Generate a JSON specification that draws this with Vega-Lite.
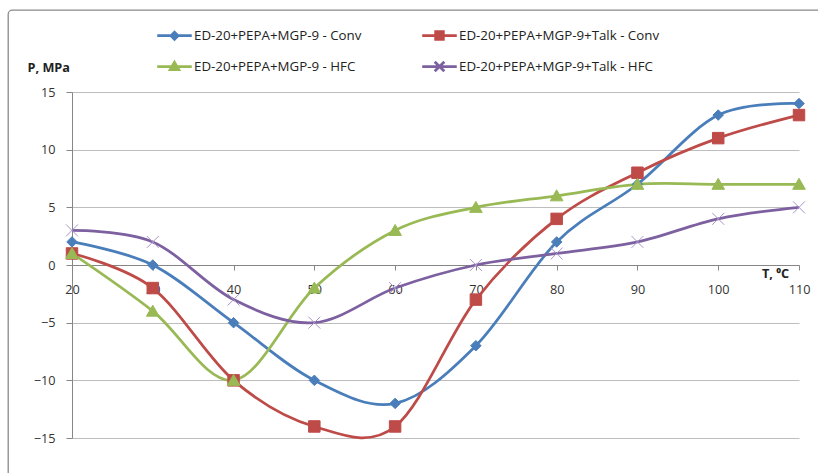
{
  "$schema": "https://vega.github.io/schema/vega-lite/v6.json",
  "autosize": "none",
  "width": 820,
  "height": 473,
  "padding": {"left": 8, "top": 10, "right": -10, "bottom": -10},
  "background": "white",
  "config": {
    "view": {"stroke": "#8a8a8a", "strokeWidth": 1.3, "cornerRadius": 4},
    "font": "Open Sans"
  },
  "data": {
    "values": [
      {"T": 20, "P": 2, "s": "ED-20+PEPA+MGP-9 - Conv"},
      {"T": 30, "P": 0, "s": "ED-20+PEPA+MGP-9 - Conv"},
      {"T": 40, "P": -5, "s": "ED-20+PEPA+MGP-9 - Conv"},
      {"T": 50, "P": -10, "s": "ED-20+PEPA+MGP-9 - Conv"},
      {"T": 60, "P": -12, "s": "ED-20+PEPA+MGP-9 - Conv"},
      {"T": 70, "P": -7, "s": "ED-20+PEPA+MGP-9 - Conv"},
      {"T": 80, "P": 2, "s": "ED-20+PEPA+MGP-9 - Conv"},
      {"T": 90, "P": 7, "s": "ED-20+PEPA+MGP-9 - Conv"},
      {"T": 100, "P": 13, "s": "ED-20+PEPA+MGP-9 - Conv"},
      {"T": 110, "P": 14, "s": "ED-20+PEPA+MGP-9 - Conv"},
      {"T": 20, "P": 1, "s": "ED-20+PEPA+MGP-9+Talk - Conv"},
      {"T": 30, "P": -2, "s": "ED-20+PEPA+MGP-9+Talk - Conv"},
      {"T": 40, "P": -10, "s": "ED-20+PEPA+MGP-9+Talk - Conv"},
      {"T": 50, "P": -14, "s": "ED-20+PEPA+MGP-9+Talk - Conv"},
      {"T": 60, "P": -14, "s": "ED-20+PEPA+MGP-9+Talk - Conv"},
      {"T": 70, "P": -3, "s": "ED-20+PEPA+MGP-9+Talk - Conv"},
      {"T": 80, "P": 4, "s": "ED-20+PEPA+MGP-9+Talk - Conv"},
      {"T": 90, "P": 8, "s": "ED-20+PEPA+MGP-9+Talk - Conv"},
      {"T": 100, "P": 11, "s": "ED-20+PEPA+MGP-9+Talk - Conv"},
      {"T": 110, "P": 13, "s": "ED-20+PEPA+MGP-9+Talk - Conv"},
      {"T": 20, "P": 1, "s": "ED-20+PEPA+MGP-9 - HFC"},
      {"T": 30, "P": -4, "s": "ED-20+PEPA+MGP-9 - HFC"},
      {"T": 40, "P": -10, "s": "ED-20+PEPA+MGP-9 - HFC"},
      {"T": 50, "P": -2, "s": "ED-20+PEPA+MGP-9 - HFC"},
      {"T": 60, "P": 3, "s": "ED-20+PEPA+MGP-9 - HFC"},
      {"T": 70, "P": 5, "s": "ED-20+PEPA+MGP-9 - HFC"},
      {"T": 80, "P": 6, "s": "ED-20+PEPA+MGP-9 - HFC"},
      {"T": 90, "P": 7, "s": "ED-20+PEPA+MGP-9 - HFC"},
      {"T": 100, "P": 7, "s": "ED-20+PEPA+MGP-9 - HFC"},
      {"T": 110, "P": 7, "s": "ED-20+PEPA+MGP-9 - HFC"},
      {"T": 20, "P": 3, "s": "ED-20+PEPA+MGP-9+Talk - HFC"},
      {"T": 30, "P": 2, "s": "ED-20+PEPA+MGP-9+Talk - HFC"},
      {"T": 40, "P": -3, "s": "ED-20+PEPA+MGP-9+Talk - HFC"},
      {"T": 50, "P": -5, "s": "ED-20+PEPA+MGP-9+Talk - HFC"},
      {"T": 60, "P": -2, "s": "ED-20+PEPA+MGP-9+Talk - HFC"},
      {"T": 70, "P": 0, "s": "ED-20+PEPA+MGP-9+Talk - HFC"},
      {"T": 80, "P": 1, "s": "ED-20+PEPA+MGP-9+Talk - HFC"},
      {"T": 90, "P": 2, "s": "ED-20+PEPA+MGP-9+Talk - HFC"},
      {"T": 100, "P": 4, "s": "ED-20+PEPA+MGP-9+Talk - HFC"},
      {"T": 110, "P": 5, "s": "ED-20+PEPA+MGP-9+Talk - HFC"}
    ]
  },
  "encoding": {
    "x": {
      "field": "T", "type": "quantitative",
      "scale": {"domain": [20, 110], "range": [64, 791], "nice": false, "zero": false},
      "axis": {
        "orient": "bottom", "offset": -218,
        "values": [20, 30, 40, 50, 60, 70, 80, 90, 100, 110],
        "grid": false, "labelFlush": false,
        "domainColor": "#868686", "tickColor": "#868686", "tickSize": 5,
        "labelPadding": 13, "labelFont": "Open Sans", "labelFontSize": 12.7, "labelColor": "#333333",
        "title": "T, ⁰C", "titleX": 767, "titleY": 8, "titleAlign": "center", "titleBaseline": "middle",
        "titleAngle": 0, "titleFont": "Open Sans", "titleFontSize": 12.7, "titleFontWeight": "bold", "titleColor": "#222222"
      }
    },
    "y": {
      "field": "P", "type": "quantitative",
      "scale": {"domain": [-15, 15], "range": [428, 82], "nice": false, "zero": false},
      "axis": {
        "orient": "left", "offset": -64,
        "values": [-15, -10, -5, 0, 5, 10, 15],
        "grid": true, "gridColor": "#bdbdbd", "gridWidth": 1,
        "domainColor": "#868686", "tickColor": "#868686", "tickSize": 6,
        "labelPadding": 11, "labelFont": "Open Sans", "labelFontSize": 12.7, "labelColor": "#333333",
        "title": "P, MPa", "titleX": -45, "titleY": 57, "titleAlign": "left", "titleBaseline": "middle",
        "titleAngle": 0, "titleFont": "Open Sans", "titleFontSize": 12.7, "titleFontWeight": "bold", "titleColor": "#222222"
      }
    }
  },
  "resolve": {"scale": {"color": "independent", "shape": "independent", "stroke": "independent"}},
  "layer": [
    {
      "mark": {"type": "line", "interpolate": "cardinal", "strokeWidth": 2.75},
      "encoding": {
        "color": {
          "field": "s", "type": "nominal",
          "scale": {
            "domain": ["ED-20+PEPA+MGP-9 - Conv", "ED-20+PEPA+MGP-9+Talk - Conv", "ED-20+PEPA+MGP-9 - HFC", "ED-20+PEPA+MGP-9+Talk - HFC"],
            "range": ["#4a7ebb", "#be4b48", "#98b954", "#7d60a0"]
          },
          "legend": null
        }
      }
    },
    {
      "mark": {"type": "point", "filled": true, "opacity": 1, "size": 196, "strokeWidth": 1},
      "encoding": {
        "color": {
          "field": "s", "type": "nominal",
          "scale": {
            "domain": ["ED-20+PEPA+MGP-9 - Conv", "ED-20+PEPA+MGP-9+Talk - Conv", "ED-20+PEPA+MGP-9 - HFC", "ED-20+PEPA+MGP-9+Talk - HFC"],
            "range": ["#4a7ebb", "#be4b48", "#98b954", "#7d60a0"]
          },
          "legend": null
        },
        "stroke": {
          "field": "s", "type": "nominal",
          "scale": {
            "domain": ["ED-20+PEPA+MGP-9 - Conv", "ED-20+PEPA+MGP-9+Talk - Conv", "ED-20+PEPA+MGP-9 - HFC", "ED-20+PEPA+MGP-9+Talk - HFC"],
            "range": ["#4a7ebb", "#be4b48", "#98b954", "#a995c9"]
          },
          "legend": null
        },
        "shape": {
          "field": "s", "type": "nominal",
          "scale": {
            "domain": ["ED-20+PEPA+MGP-9 - Conv", "ED-20+PEPA+MGP-9+Talk - Conv", "ED-20+PEPA+MGP-9 - HFC", "ED-20+PEPA+MGP-9+Talk - HFC"],
            "range": [
              "M0,-0.75L0.75,0L0,0.75L-0.75,0Z",
              "M-0.82,-0.82L0.82,-0.82L0.82,0.82L-0.82,0.82Z",
              "M0,-0.85L0.9,0.72L-0.9,0.72Z",
              "M-0.85,-0.85L0.85,0.85M-0.85,0.85L0.85,-0.85"
            ]
          },
          "legend": null
        }
      }
    },
    {
      "mark": {"type": "point", "filled": true, "opacity": 0, "size": 1024, "strokeWidth": 2.75},
      "encoding": {
        "color": {
          "field": "s", "type": "nominal",
          "scale": {
            "domain": ["ED-20+PEPA+MGP-9 - Conv", "ED-20+PEPA+MGP-9+Talk - Conv", "ED-20+PEPA+MGP-9 - HFC", "ED-20+PEPA+MGP-9+Talk - HFC"],
            "range": ["#4a7ebb", "#be4b48", "#98b954", "#7d60a0"]
          },
          "legend": {
            "orient": "none", "legendX": 149, "legendY": 8, "columns": 2, "direction": "horizontal",
            "values": ["ED-20+PEPA+MGP-9 - Conv", "ED-20+PEPA+MGP-9+Talk - Conv", "ED-20+PEPA+MGP-9 - HFC", "ED-20+PEPA+MGP-9+Talk - HFC"],
            "columnPadding": 54, "rowPadding": 4,
            "symbolOpacity": 1, "symbolStrokeWidth": 2.75, "symbolSize": 1024,
            "labelFont": "Open Sans", "labelFontSize": 13.3, "labelColor": "#222222", "labelOffset": 2, "labelLimit": 400,
            "title": null
          }
        },
        "stroke": {
          "field": "s", "type": "nominal",
          "scale": {
            "domain": ["ED-20+PEPA+MGP-9 - Conv", "ED-20+PEPA+MGP-9+Talk - Conv", "ED-20+PEPA+MGP-9 - HFC", "ED-20+PEPA+MGP-9+Talk - HFC"],
            "range": ["#4a7ebb", "#be4b48", "#98b954", "#7d60a0"]
          },
          "legend": {
            "orient": "none", "legendX": 149, "legendY": 8, "columns": 2, "direction": "horizontal",
            "values": ["ED-20+PEPA+MGP-9 - Conv", "ED-20+PEPA+MGP-9+Talk - Conv", "ED-20+PEPA+MGP-9 - HFC", "ED-20+PEPA+MGP-9+Talk - HFC"],
            "columnPadding": 54, "rowPadding": 4,
            "symbolOpacity": 1, "symbolStrokeWidth": 2.75, "symbolSize": 1024,
            "labelFont": "Open Sans", "labelFontSize": 13.3, "labelColor": "#222222", "labelOffset": 2, "labelLimit": 400,
            "title": null
          }
        },
        "shape": {
          "field": "s", "type": "nominal",
          "scale": {
            "domain": ["ED-20+PEPA+MGP-9 - Conv", "ED-20+PEPA+MGP-9+Talk - Conv", "ED-20+PEPA+MGP-9 - HFC", "ED-20+PEPA+MGP-9+Talk - HFC"],
            "range": [
              "M-1.08,0L1.08,0M0,-0.22L0.22,0L0,0.22L-0.22,0Z",
              "M-1.08,0L1.08,0M-0.24,-0.24L0.24,-0.24L0.24,0.24L-0.24,0.24Z",
              "M-1.08,0L1.08,0M0,-0.26L0.27,0.2L-0.27,0.2Z",
              "M-1.08,0L1.08,0M-0.3,-0.3L0.3,0.3M-0.3,0.3L0.3,-0.3"
            ]
          },
          "legend": {
            "orient": "none", "legendX": 149, "legendY": 8, "columns": 2, "direction": "horizontal",
            "values": ["ED-20+PEPA+MGP-9 - Conv", "ED-20+PEPA+MGP-9+Talk - Conv", "ED-20+PEPA+MGP-9 - HFC", "ED-20+PEPA+MGP-9+Talk - HFC"],
            "columnPadding": 54, "rowPadding": 4,
            "symbolOpacity": 1, "symbolStrokeWidth": 2.75, "symbolSize": 1024,
            "labelFont": "Open Sans", "labelFontSize": 13.3, "labelColor": "#222222", "labelOffset": 2, "labelLimit": 400,
            "title": null
          }
        }
      }
    }
  ]
}
